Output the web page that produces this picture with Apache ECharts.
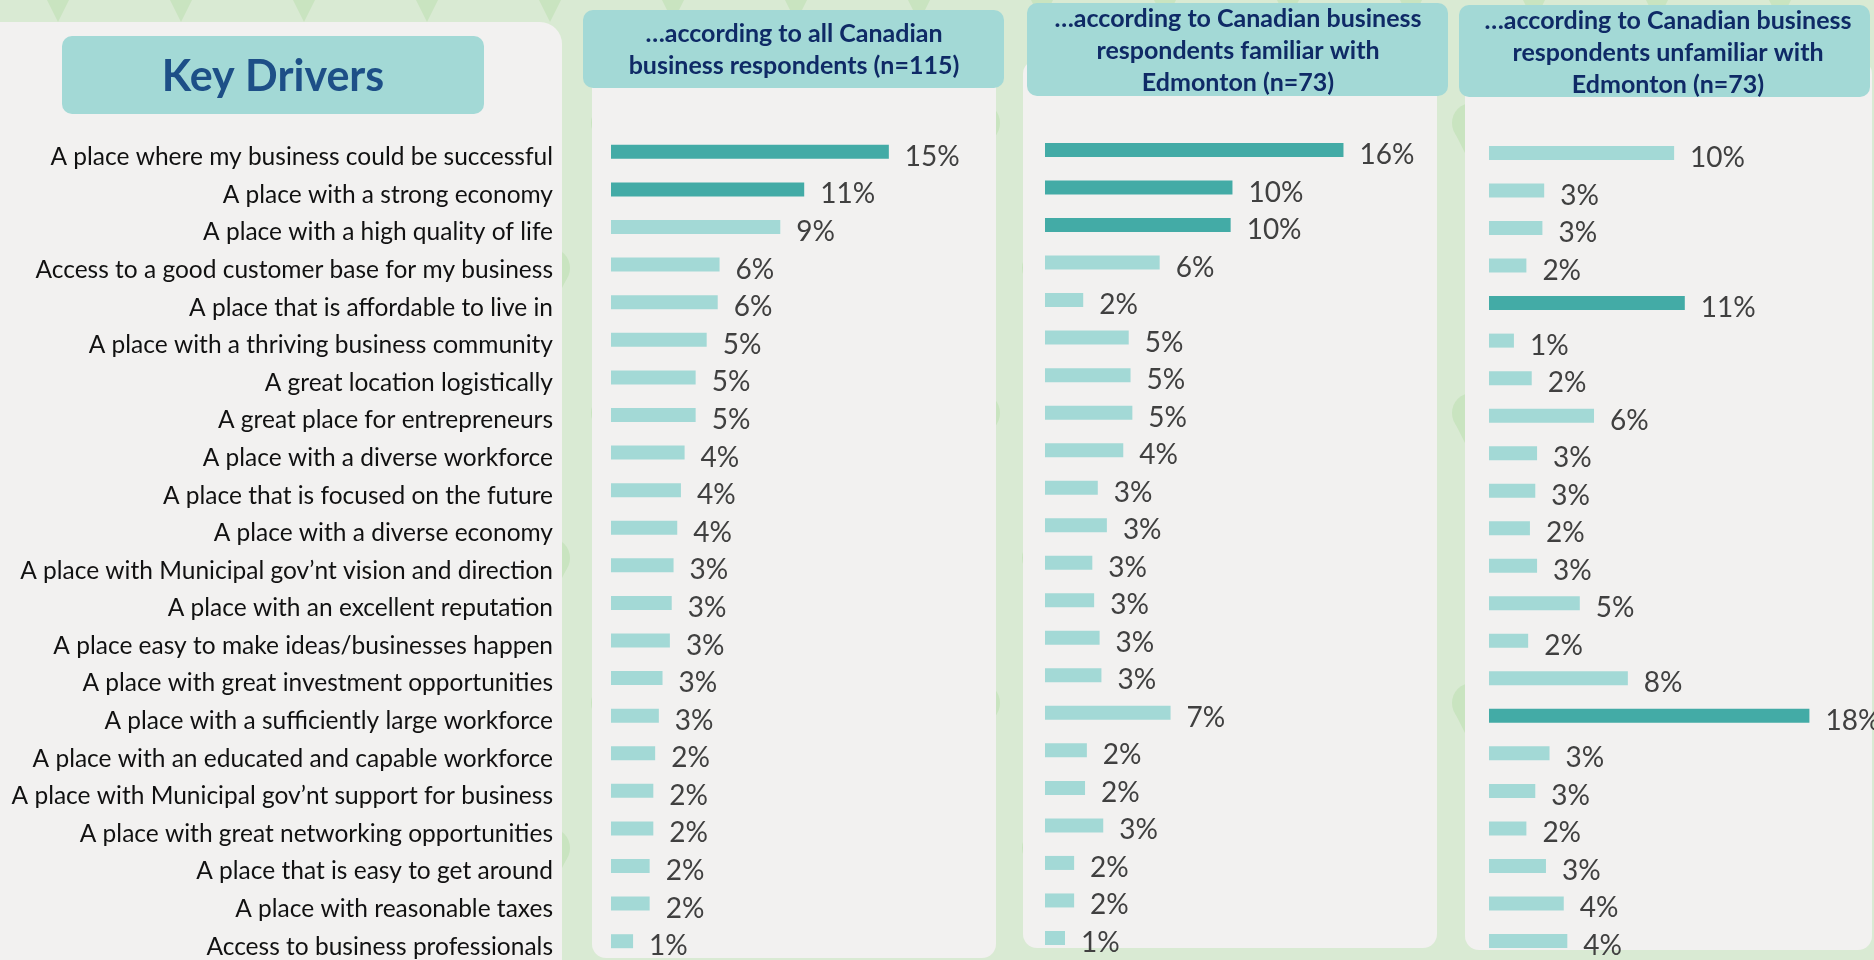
<!DOCTYPE html>
<html>
<head>
<meta charset="utf-8">
<title>Key Drivers</title>
<script src="https://cdn.jsdelivr.net/npm/echarts@6.0.0/dist/echarts.min.js"></script>
<style>
  html, body { margin: 0; padding: 0; background: #d9ead3; }
  #chart { width: 1874px; height: 960px; }
</style>
</head>
<body>
<div id="chart"></div>
<script>
// rows, top to bottom
const drivers = [
  'A place where my business could be successful',
  'A place with a strong economy',
  'A place with a high quality of life',
  'Access to a good customer base for my business',
  'A place that is affordable to live in',
  'A place with a thriving business community',
  'A great location logistically',
  'A great place for entrepreneurs',
  'A place with a diverse workforce',
  'A place that is focused on the future',
  'A place with a diverse economy',
  'A place with Municipal gov\u2019nt vision and direction',
  'A place with an excellent reputation',
  'A place easy to make ideas/businesses happen',
  'A place with great investment opportunities',
  'A place with a sufficiently large workforce',
  'A place with an educated and capable workforce',
  'A place with Municipal gov\u2019nt support for business',
  'A place with great networking opportunities',
  'A place that is easy to get around',
  'A place with reasonable taxes',
  'Access to business professionals'
];

// % of respondents (labels are rounded)
const allRespondents = [15.1, 10.5, 9.2, 5.9, 5.8, 5.2, 4.6, 4.6, 4.0, 3.8, 3.6, 3.4, 3.3, 3.2, 2.8, 2.6, 2.4, 2.3, 2.3, 2.1, 2.1, 1.2];
const familiarRespondents = [16.4, 10.3, 10.2, 6.3, 2.1, 4.6, 4.7, 4.8, 4.3, 2.9, 3.4, 2.6, 2.7, 3.0, 3.1, 6.9, 2.3, 2.2, 3.2, 1.6, 1.6, 1.1];
const unfamiliarRespondents = [10.4, 3.1, 3.0, 2.1, 11.0, 1.4, 2.4, 5.9, 2.7, 2.6, 2.3, 2.7, 5.1, 2.2, 7.8, 18.0, 3.4, 2.6, 2.1, 3.2, 4.2, 4.4];

const mainTitle = 'Key Drivers';
const panelTitles = [
  '\u2026according to all Canadian\nbusiness respondents (n=115)',
  '\u2026according to Canadian business\nrespondents familiar with\nEdmonton (n=73)',
  '\u2026according to Canadian business\nrespondents unfamiliar with\nEdmonton (n=73)'
];

const DARK = '#43aba6';
const LIGHT = '#a3d9d6';
const FONT = 'Lato, "Open Sans", sans-serif';

// layout of the three bar panels
const panels = [
  { data: allRespondents, topN: 2, grid: { left: 611, top: 133.05, width: 368, height: 833.9 },
    header: { x: 583, y: 10, w: 421, h: 78 }, body: { x: 592, y: 60, w: 404, h: 898 }, tx: 794, ty: 50 },
  { data: familiarRespondents, topN: 3, grid: { left: 1045, top: 131.24, width: 364, height: 825.5 },
    header: { x: 1027, y: 3, w: 421, h: 93 }, body: { x: 1023, y: 60, w: 414, h: 888 }, tx: 1238, ty: 51 },
  { data: unfamiliarRespondents, topN: 2, grid: { left: 1489, top: 134.24, width: 356, height: 825.5 },
    header: { x: 1459, y: 5, w: 411, h: 92 }, body: { x: 1465, y: 60, w: 407, h: 890 }, tx: 1668, ty: 53 }
];

function pinGraphics() {
  let out = [];
  for (let r = 0; r < 8; r++) {
    for (let c = -1; c < 17; c++) {
      let cx = 58 + c * 123 + (r % 2 ? 61 : 0);
      let cy = -22 + r * 145;
      out.push({ type: 'polygon', z: 0, shape: { points: [[cx - 17, cy + 10], [cx + 17, cy + 10], [cx, cy + 44]] },
        style: { fill: '#c9e4c0' } });
      out.push({ type: 'circle', z: 0, shape: { cx: cx, cy: cy, r: 20 }, style: { fill: '#c9e4c0' } });
      out.push({ type: 'circle', z: 0, shape: { cx: cx, cy: cy - 1, r: 7 }, style: { fill: '#d6ead0' } });
    }
  }
  return out;
}

function initChart() {
  let chart = echarts.init(document.getElementById('chart'));

  let graphics = pinGraphics();
  // label panel + title box
  graphics.push({ type: 'rect', z: 1, shape: { x: -30, y: 22, width: 592, height: 980, r: 22 }, style: { fill: '#f2f1f0' } });
  graphics.push({ type: 'rect', z: 1, shape: { x: 62, y: 36, width: 422, height: 78, r: 10 }, style: { fill: LIGHT } });
  graphics.push({ type: 'text', z: 3, x: 273, y: 77, style: {
    text: mainTitle, fontSize: 43, fontWeight: 'bold', fontFamily: FONT, fill: '#1d4f87',
    align: 'center', verticalAlign: 'middle' } });

  panels.forEach((p, i) => {
    graphics.push({ type: 'rect', z: 1, shape: { x: p.body.x, y: p.body.y, width: p.body.w, height: p.body.h, r: 14 },
      style: { fill: '#f2f1f0' } });
    graphics.push({ type: 'rect', z: 1, shape: { x: p.header.x, y: p.header.y, width: p.header.w, height: p.header.h, r: 10 },
      style: { fill: LIGHT } });
    graphics.push({ type: 'text', z: 3, x: p.tx, y: p.ty, style: {
      text: panelTitles[i], fontSize: 25, fontWeight: 'bold', fontFamily: FONT, fill: '#0f2a66',
      align: 'center', verticalAlign: 'middle', lineHeight: 32 } });
  });

  let option = {
    backgroundColor: '#d9ead3',
    animation: false,
    graphic: { elements: graphics },
    grid: panels.map(p => p.grid),
    xAxis: panels.map((p, i) => ({
      type: 'value', gridIndex: i, min: 0, max: 20, show: false
    })),
    yAxis: panels.map((p, i) => ({
      type: 'category', gridIndex: i, data: drivers, inverse: true, z: 6,
      axisLine: { show: false }, axisTick: { show: false }, splitLine: { show: false },
      axisLabel: {
        show: i === 0, interval: 0, margin: 58, fontSize: 24.5, fontFamily: FONT, color: '#111111',
        verticalAlign: 'top', lineHeight: 11
      }
    })),
    series: panels.map((p, i) => {
      let threshold = p.data.slice().sort((a, b) => b - a)[p.topN - 1];
      return {
        type: 'bar', xAxisIndex: i, yAxisIndex: i, barWidth: 14, z: 4,
        data: p.data,
        itemStyle: { color: (e) => e.value >= threshold ? DARK : LIGHT },
        label: {
          show: true, position: 'right', distance: 16, offset: [0, 5],
          fontSize: 28, fontFamily: FONT, color: '#404040',
          formatter: (e) => Math.round(e.value) + '%'
        }
      };
    })
  };
  chart.setOption(option);
}

initChart();
</script>
</body>
</html>
